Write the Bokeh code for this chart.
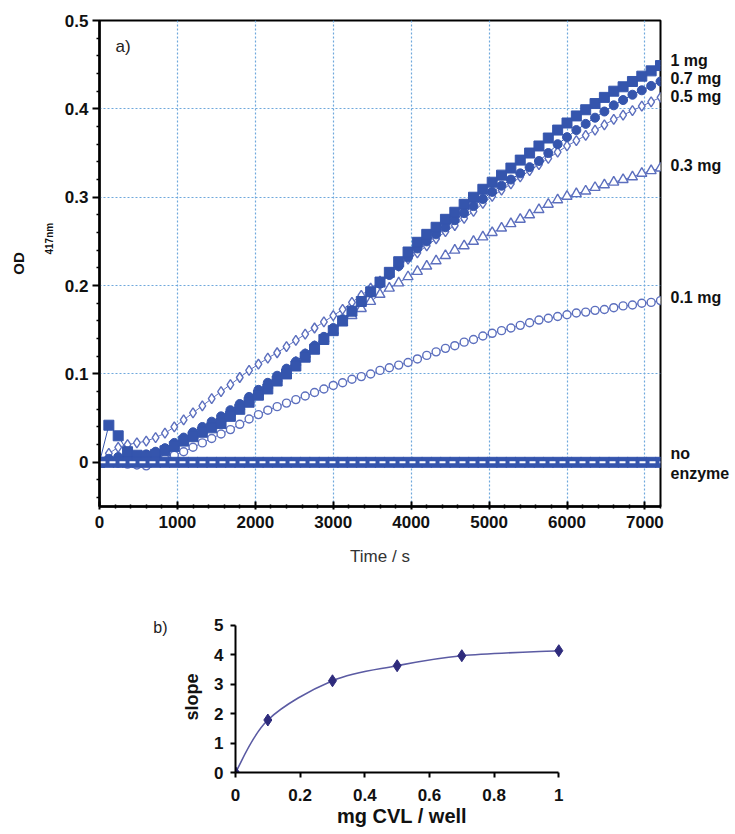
from math import pi
from bokeh.plotting import figure
from bokeh.models import FixedTicker, Label, LinearAxis
from bokeh.embed import file_html
from bokeh.resources import INLINE

# ---------------- data: panel a ----------------
time_s = [0, 120, 240, 360, 480, 600, 720, 840, 960, 1080,
          1200, 1320, 1440, 1560, 1680, 1800, 1920, 2040, 2160, 2280,
          2400, 2520, 2640, 2760, 2880, 3000, 3120, 3240, 3360, 3480,
          3600, 3720, 3840, 3960, 4080, 4200, 4320, 4440, 4560, 4680,
          4800, 4920, 5040, 5160, 5280, 5400, 5520, 5640, 5760, 5880,
          6000, 6120, 6240, 6360, 6480, 6600, 6720, 6840, 6960, 7080,
          7200]

od_1mg = [0.000, 0.042, 0.030, 0.012, 0.008, 0.007, 0.009, 0.013, 0.018, 0.024,
          0.029, 0.034, 0.039, 0.044, 0.052, 0.060, 0.068, 0.076, 0.083, 0.092,
          0.100, 0.109, 0.119, 0.128, 0.139, 0.149, 0.160, 0.171, 0.182, 0.193,
          0.204, 0.215, 0.227, 0.238, 0.249, 0.258, 0.266, 0.275, 0.283, 0.292,
          0.300, 0.309, 0.317, 0.325, 0.333, 0.342, 0.350, 0.358, 0.367, 0.376,
          0.384, 0.392, 0.399, 0.406, 0.413, 0.420, 0.425, 0.431, 0.437, 0.443,
          0.449]

od_07mg = [0.000, 0.004, 0.006, 0.006, 0.007, 0.009, 0.012, 0.016, 0.022, 0.028,
           0.034, 0.040, 0.046, 0.052, 0.059, 0.066, 0.074, 0.082, 0.090, 0.098,
           0.106, 0.114, 0.123, 0.132, 0.142, 0.152, 0.162, 0.172, 0.182, 0.192,
           0.202, 0.212, 0.222, 0.232, 0.242, 0.250, 0.258, 0.266, 0.274, 0.282,
           0.290, 0.298, 0.306, 0.313, 0.320, 0.327, 0.334, 0.341, 0.350, 0.360,
           0.368, 0.376, 0.383, 0.390, 0.397, 0.404, 0.410, 0.416, 0.421, 0.426,
           0.431]

od_05mg = [0.000, 0.010, 0.017, 0.020, 0.022, 0.024, 0.028, 0.033, 0.040, 0.048,
           0.056, 0.064, 0.072, 0.080, 0.088, 0.096, 0.104, 0.111, 0.118, 0.124,
           0.131, 0.138, 0.145, 0.152, 0.159, 0.166, 0.173, 0.181, 0.189, 0.197,
           0.205, 0.213, 0.222, 0.230, 0.237, 0.245, 0.253, 0.261, 0.268, 0.276,
           0.284, 0.293, 0.301, 0.308, 0.315, 0.323, 0.330, 0.337, 0.344, 0.351,
           0.358, 0.364, 0.370, 0.376, 0.382, 0.388, 0.393, 0.398, 0.403, 0.408,
           0.413]

od_03mg = [0.000, 0.003, 0.004, 0.004, 0.005, 0.007, 0.010, 0.014, 0.019, 0.024,
           0.030, 0.036, 0.042, 0.049, 0.056, 0.063, 0.071, 0.079, 0.087, 0.095,
           0.104, 0.113, 0.122, 0.131, 0.140, 0.149, 0.158, 0.166, 0.174, 0.182,
           0.190, 0.197, 0.203, 0.210, 0.216, 0.222, 0.228, 0.234, 0.240, 0.245,
           0.250, 0.255, 0.260, 0.265, 0.270, 0.275, 0.280, 0.286, 0.292, 0.297,
           0.301, 0.304, 0.307, 0.311, 0.314, 0.317, 0.320, 0.323, 0.327, 0.330,
           0.333]

od_01mg = [0.000, 0.000, -0.001, -0.002, -0.003, -0.004, 0.000, 0.004, 0.008, 0.012,
           0.017, 0.022, 0.027, 0.032, 0.037, 0.043, 0.049, 0.054, 0.059, 0.063,
           0.067, 0.071, 0.075, 0.079, 0.083, 0.087, 0.090, 0.094, 0.097, 0.100,
           0.104, 0.107, 0.110, 0.113, 0.117, 0.121, 0.125, 0.129, 0.132, 0.136,
           0.139, 0.143, 0.146, 0.149, 0.152, 0.155, 0.158, 0.161, 0.163, 0.165,
           0.167, 0.169, 0.170, 0.172, 0.173, 0.175, 0.177, 0.178, 0.180, 0.181,
           0.183]

od_none = [0.0, 0.0, 0.0, 0.0, 0.0, 0.0, 0.0, 0.0, 0.0, 0.0,
           0.0, 0.0, 0.0, 0.0, 0.0, 0.0, 0.0, 0.0, 0.0, 0.0,
           0.0, 0.0, 0.0, 0.0, 0.0, 0.0, 0.0, 0.0, 0.0, 0.0,
           0.0, 0.0, 0.0, 0.0, 0.0, 0.0, 0.0, 0.0, 0.0, 0.0,
           0.0, 0.0, 0.0, 0.0, 0.0, 0.0, 0.0, 0.0, 0.0, 0.0,
           0.0, 0.0, 0.0, 0.0, 0.0, 0.0, 0.0, 0.0, 0.0, 0.0,
           0.0]

series_labels = ["1 mg", "0.7 mg", "0.5 mg", "0.3 mg", "0.1 mg"]
none_label = ["no", "enzyme"]

time_ticks = [0, 1000, 2000, 3000, 4000, 5000, 6000, 7000]
time_tick_labels = ["0", "1000", "2000", "3000", "4000", "5000", "6000", "7000"]
time_minor = [200, 400, 600, 800, 1200, 1400, 1600, 1800, 2200, 2400, 2600, 2800,
              3200, 3400, 3600, 3800, 4200, 4400, 4600, 4800, 5200, 5400, 5600, 5800,
              6200, 6400, 6600, 6800, 7200]
od_ticks = [0, 0.1, 0.2, 0.3, 0.4, 0.5]
od_tick_labels = ["0", "0.1", "0.2", "0.3", "0.4", "0.5"]
od_minor = [-0.04, -0.02, 0.02, 0.04, 0.06, 0.08, 0.12, 0.14, 0.16, 0.18,
            0.22, 0.24, 0.26, 0.28, 0.32, 0.34, 0.36, 0.38, 0.42, 0.44, 0.46, 0.48]

# ---------------- data: panel b ----------------
cvl_mg = [0, 0.1, 0.3, 0.5, 0.7, 1.0]
slope = [0, 1.78, 3.11, 3.62, 3.96, 4.13]
cvl_ticks = [0, 0.2, 0.4, 0.6, 0.8, 1.0]
cvl_tick_labels = ["0", "0.2", "0.4", "0.6", "0.8", "1"]
slope_ticks = [0, 1, 2, 3, 4, 5]

# ---------------- styling ----------------
BLUE = "#3555ad"
LIGHT = "#5c6fbe"
GRID = "#6fa8dc"
SANS = "Liberation Sans"
INK = "#111111"


def hide_axis_marks(ax):
    ax.axis_line_color = None
    ax.major_tick_line_color = None
    ax.minor_tick_line_color = None


# ================= panel a =================
pa = figure(frame_width=561, frame_height=486,
            min_border_left=99, min_border_right=67,
            min_border_top=20, min_border_bottom=80,
            x_range=(0, 7200), y_range=(-0.05, 0.5),
            output_backend="svg", toolbar_location=None)
pa.background_fill_color = "white"
pa.border_fill_color = "white"
pa.outline_line_color = "black"
pa.outline_line_width = 2

pa.xaxis.ticker = FixedTicker(ticks=time_ticks, minor_ticks=time_minor)
pa.yaxis.ticker = FixedTicker(ticks=od_ticks, minor_ticks=od_minor)
pa.xaxis.major_label_overrides = dict(zip(time_ticks, time_tick_labels))
pa.yaxis.major_label_overrides = dict(zip(od_ticks, od_tick_labels))
for ax in (pa.xaxis, pa.yaxis):
    ax.axis_line_width = 2.5
    ax.axis_line_color = "black"
    ax.major_tick_line_width = 2
    ax.major_tick_line_color = "black"
    ax.minor_tick_line_width = 1.5
    ax.minor_tick_line_color = "black"
    ax.major_label_text_font = SANS
    ax.major_label_text_font_style = "bold"
    ax.major_label_text_font_size = "17px"
    ax.major_label_text_color = INK
pa.xaxis.major_tick_in = 5
pa.xaxis.major_tick_out = 3
pa.xaxis.minor_tick_in = 2
pa.xaxis.minor_tick_out = 2
pa.xaxis.major_label_standoff = 6
pa.xaxis.axis_label = "Time / s"
pa.xaxis.axis_label_text_font = SANS
pa.xaxis.axis_label_text_font_style = "normal"
pa.xaxis.axis_label_text_font_size = "17px"
pa.xaxis.axis_label_text_color = "#333333"
pa.xaxis.axis_label_standoff = 16
pa.yaxis.major_tick_in = 0
pa.yaxis.major_tick_out = 7
pa.yaxis.minor_tick_in = 0
pa.yaxis.minor_tick_out = 3
pa.yaxis.major_label_standoff = 4

# outer left axis carrying the "OD" title and its 417nm subscript
od_axis = LinearAxis(ticker=FixedTicker(ticks=[0.271], minor_ticks=[]),
                     bounds=(0.15, 0.32))
od_axis.major_label_overrides = {0.271: "417nm"}
od_axis.major_label_orientation = pi / 2
od_axis.major_label_text_font = SANS
od_axis.major_label_text_font_style = "bold"
od_axis.major_label_text_font_size = "10px"
od_axis.major_label_text_color = INK
od_axis.major_label_standoff = 6
od_axis.axis_label = "OD"
od_axis.axis_label_text_font = SANS
od_axis.axis_label_text_font_style = "bold"
od_axis.axis_label_text_font_size = "15px"
od_axis.axis_label_text_color = INK
od_axis.axis_label_standoff = 9
hide_axis_marks(od_axis)
pa.add_layout(od_axis, "left")

pa.xgrid.ticker = FixedTicker(ticks=time_ticks[1:])
pa.ygrid.ticker = FixedTicker(ticks=od_ticks[1:-1])
for g in (pa.xgrid, pa.ygrid):
    g.grid_line_color = GRID
    g.grid_line_dash = "2 2"
    g.grid_line_width = 1.2

# series
pa.line(time_s, od_01mg, line_color=LIGHT, line_width=1)
pa.scatter(time_s, od_01mg, marker="circle", size=8, fill_color="white",
           line_color=LIGHT, line_width=1.4)
pa.line(time_s, od_03mg, line_color=LIGHT, line_width=1)
pa.scatter(time_s, od_03mg, marker="triangle", size=10, fill_color="white",
           line_color=LIGHT, line_width=1.4)
pa.line(time_s, od_05mg, line_color=LIGHT, line_width=1)
pa.scatter(time_s, od_05mg, marker="diamond", size=10, fill_color="white",
           line_color=LIGHT, line_width=1.4)
pa.line(time_s, od_07mg, line_color=BLUE, line_width=1)
pa.scatter(time_s, od_07mg, marker="circle", size=9, fill_color=BLUE,
           line_color=BLUE)
pa.line(time_s, od_1mg, line_color=BLUE, line_width=1)
pa.scatter(time_s, od_1mg, marker="square", size=10, fill_color=BLUE,
           line_color=BLUE)
# no enzyme band
pa.scatter(time_s, od_none, marker="square", size=10, fill_color=BLUE,
           line_color=BLUE)
pa.line(time_s, od_none, line_color="white", line_width=2, line_dash="6 4")

# right-side series labels, carried by a right axis at the curve ends
ends = [od_1mg[-1], od_07mg[-1], od_05mg[-1], od_03mg[-1], od_01mg[-1],
        od_none[-1], od_none[-1]]
offsets = [0.006, 0.0035, 0.001, 0.003, 0.004, 0.0099, -0.0128]
label_pos = [round(e + d, 4) for e, d in zip(ends, offsets)]
label_txt = series_labels + none_label
lab_axis = LinearAxis(ticker=FixedTicker(ticks=label_pos, minor_ticks=[]))
lab_axis.major_label_overrides = dict(zip(label_pos, label_txt))
lab_axis.major_label_text_font = SANS
lab_axis.major_label_text_font_style = "bold"
lab_axis.major_label_text_font_size = "16px"
lab_axis.major_label_text_color = INK
lab_axis.major_label_standoff = 4
hide_axis_marks(lab_axis)
pa.add_layout(lab_axis, "right")

pa.add_layout(Label(x=205, y=0.471, text="a)", text_font=SANS,
                    text_font_size="17px", text_baseline="middle",
                    text_color="#222222"))

# ================= panel b =================
pb = figure(frame_width=333, frame_height=151,
            min_border_left=235, min_border_right=160,
            min_border_top=35, min_border_bottom=60,
            x_range=(0, 1.03), y_range=(0, 5.12),
            output_backend="svg", toolbar_location=None)
pb.outline_line_color = None
pb.grid.visible = False
pb.background_fill_color = "white"
pb.border_fill_color = "white"
pb.xaxis.bounds = (0, 1)
pb.yaxis.bounds = (0, 5)
pb.xaxis.ticker = FixedTicker(ticks=cvl_ticks, minor_ticks=[])
pb.yaxis.ticker = FixedTicker(ticks=slope_ticks, minor_ticks=[])
pb.xaxis.major_label_overrides = dict(zip(cvl_ticks, cvl_tick_labels))
for ax in (pb.xaxis, pb.yaxis):
    ax.axis_line_width = 2
    ax.axis_line_color = "black"
    ax.major_tick_line_width = 2
    ax.major_tick_line_color = "black"
    ax.major_tick_in = 0
    ax.major_tick_out = 5
    ax.major_label_text_font = SANS
    ax.major_label_text_font_style = "bold"
    ax.major_label_text_font_size = "17px"
    ax.major_label_text_color = INK
    ax.axis_label_text_font = SANS
    ax.axis_label_text_font_style = "bold"
    ax.axis_label_text_color = INK
pb.xaxis.major_label_standoff = 11
pb.yaxis.major_label_standoff = 7
pb.xaxis.axis_label = "mg CVL / well"
pb.xaxis.axis_label_text_font_size = "20px"
pb.xaxis.axis_label_standoff = 1
pb.yaxis.axis_label = "slope"
pb.yaxis.axis_label_text_font_size = "18px"
pb.yaxis.axis_label_standoff = 9

# panel letter b) on an outer left axis
b_axis = LinearAxis(ticker=FixedTicker(ticks=[4.9], minor_ticks=[]))
b_axis.major_label_overrides = {4.9: "b)"}
b_axis.major_label_text_font = SANS
b_axis.major_label_text_font_size = "16px"
b_axis.major_label_text_color = "#222222"
b_axis.major_label_standoff = 6
hide_axis_marks(b_axis)
pb.add_layout(b_axis, "left")

# smoothed line (Catmull-Rom through the points, drawn as beziers)
n = len(cvl_mg)
x0s, y0s, x1s, y1s, cx0s, cy0s, cx1s, cy1s = [], [], [], [], [], [], [], []
for i in range(n - 1):
    a = max(i - 1, 0)
    d = min(i + 2, n - 1)
    x0s.append(cvl_mg[i]); y0s.append(slope[i])
    x1s.append(cvl_mg[i + 1]); y1s.append(slope[i + 1])
    cx0s.append(cvl_mg[i] + (cvl_mg[i + 1] - cvl_mg[a]) / 6)
    cy0s.append(slope[i] + (slope[i + 1] - slope[a]) / 6)
    cx1s.append(cvl_mg[i + 1] - (cvl_mg[d] - cvl_mg[i]) / 6)
    cy1s.append(slope[i + 1] - (slope[d] - slope[i]) / 6)
pb.bezier(x0=x0s, y0=y0s, x1=x1s, y1=y1s, cx0=cx0s, cy0=cy0s, cx1=cx1s,
          cy1=cy1s, line_color="#5b5ba3", line_width=1.6)
pb.scatter(cvl_mg, slope, marker="diamond", size=12, fill_color="#2e2b7c",
           line_color="#2e2b7c")

open("out.html", "w").write(file_html([pa, pb], INLINE))
